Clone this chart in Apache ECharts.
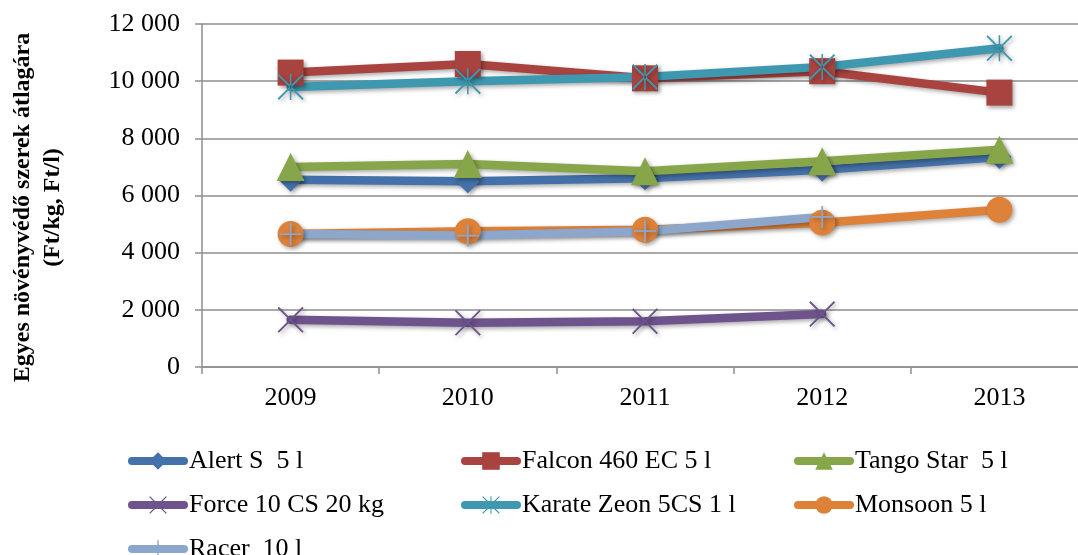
<!DOCTYPE html>
<html>
<head>
<meta charset="utf-8">
<script src="https://cdn.jsdelivr.net/npm/echarts@6/dist/echarts.min.js"></script>
<style>
html,body{margin:0;padding:0;background:#fff;overflow:hidden;width:1078px;height:555px;}
#chart{width:1092px;height:555px;}
</style>
</head>
<body>
<div id="chart"></div>
<script>
const years = ['2009', '2010', '2011', '2012', '2013'];
const alertS = [6550, 6500, 6600, 6900, 7350];
const falcon = [10300, 10600, 10100, 10350, 9600];
const tango = [7000, 7100, 6850, 7200, 7600];
const force = [1650, 1550, 1600, 1850, null];
const karate = [9800, 10000, 10150, 10500, 11150];
const monsoon = [4650, 4750, 4800, 5050, 5500];
const racer = [4650, 4600, 4750, 5250, null];
const seriesNames = ['Alert S  5 l', 'Falcon 460 EC 5 l', 'Tango Star  5 l', 'Force 10 CS 20 kg', 'Karate Zeon 5CS 1 l', 'Monsoon 5 l', 'Racer  10 l'];
const yAxisTitle = 'Egyes növényvédő szerek átlagára\n(Ft/kg, Ft/l)';

const X_PATH = 'path://M0,5 L5,0 L50,45 L95,0 L100,5 L55,50 L100,95 L95,100 L50,55 L5,100 L0,95 L45,50 Z';
const STAR_PATH = 'path://M0,5 L5,0 L50,45 L95,0 L100,5 L55,50 L100,95 L95,100 L50,55 L5,100 L0,95 L45,50 Z M47,0 L47,100 L53,100 L53,0 Z';
const PLUS_PATH = 'path://M46,0 L54,0 L54,46 L100,46 L100,54 L54,54 L54,100 L46,100 L46,54 L0,54 L0,46 L46,46 Z';

const FONT = '"Liberation Serif", "Times New Roman", serif';
const shadow = {shadowColor: 'rgba(0,0,0,0.35)', shadowBlur: 4, shadowOffsetX: 2, shadowOffsetY: 2};

function mk(name, data, color, symbol, size) {
  return {
    name: name, type: 'line', data: data, symbol: symbol, symbolSize: size,
    showAllSymbol: true, connectNulls: false,
    lineStyle: Object.assign({color: color, width: 8.5, cap: 'round', join: 'round'}, shadow),
    itemStyle: Object.assign({color: color}, shadow),
    emphasis: {disabled: true},
    z: 2
  };
}

const chart = echarts.init(document.getElementById('chart'), null, {renderer: 'canvas'});
const legendBase = {
  orient: 'vertical', itemWidth: 52, itemHeight: 22, itemGap: 18, top: 448, height: 130, padding: 0,
  textStyle: {fontFamily: FONT, fontSize: 26, color: '#000', lineHeight: 22},
  lineStyle: {width: 8, cap: 'round'},
  itemStyle: {borderWidth: 0},
  selectedMode: false
};
chart.setOption({
  animation: false,
  backgroundColor: '#fff',
  grid: {left: 202, right: 4, top: 24, bottom: 188, containLabel: false},
  legend: [
    Object.assign({left: 128, data: [seriesNames[0], seriesNames[3], seriesNames[6]]}, legendBase),
    Object.assign({left: 461, data: [seriesNames[1], seriesNames[4]]}, legendBase),
    Object.assign({left: 794, data: [seriesNames[2], seriesNames[5]]}, legendBase)
  ],
  xAxis: {
    type: 'category', data: years, boundaryGap: true,
    axisLine: {lineStyle: {color: '#8e8e8e', width: 1.5}},
    axisTick: {show: true, length: 7, alignWithLabel: false, lineStyle: {color: '#8e8e8e', width: 1.5}},
    axisLabel: {fontFamily: FONT, fontSize: 26, color: '#000', margin: 18},
    splitLine: {show: false}
  },
  yAxis: {
    type: 'value', min: 0, max: 12000, interval: 2000,
    name: yAxisTitle, nameLocation: 'middle', nameRotate: 90, nameGap: 134,
    nameTextStyle: {fontFamily: FONT, fontSize: 24, fontWeight: 'bold', color: '#000', lineHeight: 30, padding: [0, 24, 0, 0]},
    axisLine: {show: true, lineStyle: {color: '#8e8e8e', width: 1.5}},
    axisTick: {show: true, length: 7, lineStyle: {color: '#8e8e8e', width: 1.5}},
    axisLabel: {fontFamily: FONT, fontSize: 26, color: '#000', margin: 22,
      formatter: v => String(v).replace(/\B(?=(\d{3})+(?!\d))/g, ' ')},
    splitLine: {show: true, lineStyle: {color: '#8e8e8e', width: 1.5}}
  },
  series: [
    mk(seriesNames[0], alertS, '#4471A9', 'diamond', 24),
    mk(seriesNames[1], falcon, '#A9433F', 'rect', 26),
    mk(seriesNames[2], tango, '#87A64A', 'triangle', 28),
    mk(seriesNames[3], force, '#6E538D', X_PATH, 26),
    mk(seriesNames[4], karate, '#3D98B0', STAR_PATH, 26),
    mk(seriesNames[5], monsoon, '#DE8139', 'circle', 26),
    mk(seriesNames[6], racer, '#8DA7CC', PLUS_PATH, 22)
  ]
});
</script>
</body>
</html>
